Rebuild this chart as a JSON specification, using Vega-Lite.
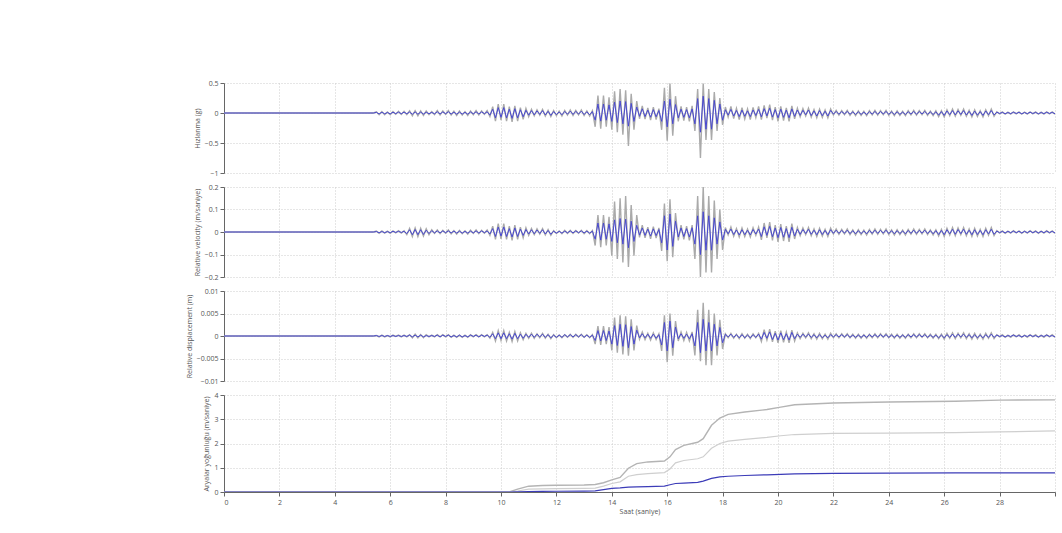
{
"$schema":"https://vega.github.io/schema/vega-lite/v6.json",
"padding":{"left":185,"top":79,"right":4,"bottom":2},
"background":"#ffffff",
"spacing":7,
"config":{"font":"Open Sans","view":{"stroke":null},"axis":{"labelFontSize":7,"titleFontSize":7,"titleFontWeight":"normal","labelColor":"#555555","titleColor":"#555555","gridColor":"#cccccc","gridDash":[1,2],"domainColor":"#666666","tickColor":"#666666","tickSize":4,"labelPadding":2,"titlePadding":4}},
"datasets":{
"osc":[
{"t":0,"a":0,"g":0,"v":0,"w":0,"d":0,"e":0},
{"t":5.4,"a":0,"g":0,"v":0,"w":0,"d":0,"e":0},
{"t":5.5,"a":0.011,"g":0.021,"v":0.002,"w":0.004,"d":0.0001,"e":0.0001},
{"t":5.6,"a":-0.015,"g":-0.03,"v":-0.003,"w":-0.006,"d":-0.0001,"e":-0.0002},
{"t":5.7,"a":0.012,"g":0.024,"v":0.002,"w":0.005,"d":0.0001,"e":0.0002},
{"t":5.8,"a":-0.014,"g":-0.027,"v":-0.003,"w":-0.005,"d":-0.0001,"e":-0.0002},
{"t":5.9,"a":0.009,"g":0.018,"v":0.002,"w":0.004,"d":0.0001,"e":0.0001},
{"t":6.0,"a":-0.015,"g":-0.03,"v":-0.003,"w":-0.006,"d":-0.0001,"e":-0.0002},
{"t":6.1,"a":0.013,"g":0.026,"v":0.003,"w":0.005,"d":0.0001,"e":0.0002},
{"t":6.2,"a":-0.011,"g":-0.021,"v":-0.002,"w":-0.004,"d":-0.0001,"e":-0.0001},
{"t":6.3,"a":0.015,"g":0.03,"v":0.003,"w":0.006,"d":0.0001,"e":0.0002},
{"t":6.4,"a":-0.012,"g":-0.024,"v":-0.002,"w":-0.005,"d":-0.0001,"e":-0.0002},
{"t":6.5,"a":0.014,"g":0.027,"v":0.003,"w":0.005,"d":0.0001,"e":0.0002},
{"t":6.6,"a":-0.012,"g":-0.027,"v":-0.007,"w":-0.012,"d":-0.0001,"e":-0.0002},
{"t":6.7,"a":0.016,"g":0.036,"v":0.01,"w":0.016,"d":0.0002,"e":0.0003},
{"t":6.8,"a":-0.02,"g":-0.045,"v":-0.012,"w":-0.02,"d":-0.0002,"e":-0.0004},
{"t":6.9,"a":0.018,"g":0.04,"v":0.011,"w":0.018,"d":0.0002,"e":0.0004},
{"t":7.0,"a":-0.02,"g":-0.045,"v":-0.012,"w":-0.02,"d":-0.0002,"e":-0.0004},
{"t":7.1,"a":0.016,"g":0.036,"v":0.01,"w":0.016,"d":0.0002,"e":0.0003},
{"t":7.2,"a":-0.018,"g":-0.04,"v":-0.011,"w":-0.018,"d":-0.0002,"e":-0.0004},
{"t":7.3,"a":0.014,"g":0.032,"v":0.008,"w":0.014,"d":0.0001,"e":0.0003},
{"t":7.4,"a":-0.012,"g":-0.027,"v":-0.007,"w":-0.012,"d":-0.0001,"e":-0.0002},
{"t":7.5,"a":0.01,"g":0.023,"v":0.006,"w":0.01,"d":0.0001,"e":0.0002},
{"t":7.6,"a":-0.014,"g":-0.028,"v":-0.004,"w":-0.006,"d":-0.0001,"e":-0.0002},
{"t":7.7,"a":0.02,"g":0.04,"v":0.005,"w":0.009,"d":0.0002,"e":0.0003},
{"t":7.8,"a":-0.016,"g":-0.032,"v":-0.004,"w":-0.007,"d":-0.0002,"e":-0.0002},
{"t":7.9,"a":0.018,"g":0.036,"v":0.005,"w":0.008,"d":0.0002,"e":0.0003},
{"t":8.0,"a":-0.012,"g":-0.024,"v":-0.003,"w":-0.005,"d":-0.0001,"e":-0.0002},
{"t":8.1,"a":0.02,"g":0.04,"v":0.005,"w":0.009,"d":0.0002,"e":0.0003},
{"t":8.2,"a":-0.017,"g":-0.034,"v":-0.004,"w":-0.008,"d":-0.0002,"e":-0.0003},
{"t":8.3,"a":0.014,"g":0.028,"v":0.004,"w":0.006,"d":0.0001,"e":0.0002},
{"t":8.4,"a":-0.02,"g":-0.04,"v":-0.005,"w":-0.009,"d":-0.0002,"e":-0.0003},
{"t":8.5,"a":0.016,"g":0.032,"v":0.004,"w":0.007,"d":0.0002,"e":0.0002},
{"t":8.6,"a":-0.018,"g":-0.036,"v":-0.005,"w":-0.008,"d":-0.0002,"e":-0.0003},
{"t":8.7,"a":0.012,"g":0.024,"v":0.003,"w":0.005,"d":0.0001,"e":0.0002},
{"t":8.8,"a":-0.02,"g":-0.04,"v":-0.005,"w":-0.009,"d":-0.0002,"e":-0.0003},
{"t":8.9,"a":0.017,"g":0.034,"v":0.004,"w":0.008,"d":0.0002,"e":0.0003},
{"t":9.0,"a":-0.014,"g":-0.028,"v":-0.004,"w":-0.006,"d":-0.0001,"e":-0.0002},
{"t":9.1,"a":0.02,"g":0.04,"v":0.005,"w":0.009,"d":0.0002,"e":0.0003},
{"t":9.2,"a":-0.016,"g":-0.032,"v":-0.004,"w":-0.007,"d":-0.0002,"e":-0.0002},
{"t":9.3,"a":0.018,"g":0.036,"v":0.005,"w":0.008,"d":0.0002,"e":0.0003},
{"t":9.4,"a":-0.012,"g":-0.024,"v":-0.003,"w":-0.005,"d":-0.0001,"e":-0.0002},
{"t":9.5,"a":0.02,"g":0.04,"v":0.005,"w":0.009,"d":0.0002,"e":0.0003},
{"t":9.6,"a":-0.036,"g":-0.06,"v":-0.009,"w":-0.015,"d":-0.0003,"e":-0.0005},
{"t":9.7,"a":0.063,"g":0.105,"v":0.015,"w":0.026,"d":0.0005,"e":0.0008},
{"t":9.8,"a":-0.081,"g":-0.135,"v":-0.02,"w":-0.033,"d":-0.0006,"e":-0.0011},
{"t":9.9,"a":0.09,"g":0.15,"v":0.022,"w":0.037,"d":0.0007,"e":0.0012},
{"t":10.0,"a":-0.072,"g":-0.12,"v":-0.018,"w":-0.03,"d":-0.0006,"e":-0.001},
{"t":10.1,"a":0.09,"g":0.15,"v":0.022,"w":0.037,"d":0.0007,"e":0.0012},
{"t":10.2,"a":-0.081,"g":-0.135,"v":-0.02,"w":-0.033,"d":-0.0006,"e":-0.0011},
{"t":10.3,"a":0.063,"g":0.105,"v":0.015,"w":0.026,"d":0.0005,"e":0.0008},
{"t":10.4,"a":-0.09,"g":-0.15,"v":-0.022,"w":-0.037,"d":-0.0007,"e":-0.0012},
{"t":10.5,"a":0.072,"g":0.12,"v":0.018,"w":0.03,"d":0.0006,"e":0.001},
{"t":10.6,"a":-0.081,"g":-0.135,"v":-0.02,"w":-0.033,"d":-0.0006,"e":-0.0011},
{"t":10.7,"a":0.054,"g":0.09,"v":0.013,"w":0.022,"d":0.0004,"e":0.0007},
{"t":10.8,"a":-0.063,"g":-0.105,"v":-0.015,"w":-0.026,"d":-0.0005,"e":-0.0008},
{"t":10.9,"a":0.045,"g":0.075,"v":0.011,"w":0.019,"d":0.0004,"e":0.0006},
{"t":11.0,"a":-0.036,"g":-0.06,"v":-0.009,"w":-0.015,"d":-0.0003,"e":-0.0005},
{"t":11.1,"a":0.04,"g":0.06,"v":0.01,"w":0.015,"d":0.0004,"e":0.0006},
{"t":11.2,"a":-0.032,"g":-0.048,"v":-0.008,"w":-0.012,"d":-0.0003,"e":-0.0005},
{"t":11.3,"a":0.036,"g":0.054,"v":0.009,"w":0.014,"d":0.0004,"e":0.0005},
{"t":11.4,"a":-0.024,"g":-0.036,"v":-0.006,"w":-0.009,"d":-0.0002,"e":-0.0004},
{"t":11.5,"a":0.04,"g":0.06,"v":0.01,"w":0.015,"d":0.0004,"e":0.0006},
{"t":11.6,"a":-0.034,"g":-0.051,"v":-0.009,"w":-0.013,"d":-0.0003,"e":-0.0005},
{"t":11.7,"a":0.028,"g":0.042,"v":0.007,"w":0.011,"d":0.0003,"e":0.0004},
{"t":11.8,"a":-0.04,"g":-0.06,"v":-0.01,"w":-0.015,"d":-0.0004,"e":-0.0006},
{"t":11.9,"a":0.024,"g":0.04,"v":0.004,"w":0.006,"d":0.0002,"e":0.0003},
{"t":12.0,"a":-0.027,"g":-0.045,"v":-0.005,"w":-0.007,"d":-0.0003,"e":-0.0004},
{"t":12.1,"a":0.018,"g":0.03,"v":0.003,"w":0.005,"d":0.0002,"e":0.0002},
{"t":12.2,"a":-0.03,"g":-0.05,"v":-0.005,"w":-0.008,"d":-0.0003,"e":-0.0004},
{"t":12.3,"a":0.026,"g":0.043,"v":0.004,"w":0.007,"d":0.0003,"e":0.0003},
{"t":12.4,"a":-0.021,"g":-0.035,"v":-0.004,"w":-0.006,"d":-0.0002,"e":-0.0003},
{"t":12.5,"a":0.03,"g":0.05,"v":0.005,"w":0.008,"d":0.0003,"e":0.0004},
{"t":12.6,"a":-0.024,"g":-0.04,"v":-0.004,"w":-0.006,"d":-0.0002,"e":-0.0003},
{"t":12.7,"a":0.027,"g":0.045,"v":0.005,"w":0.007,"d":0.0003,"e":0.0004},
{"t":12.8,"a":-0.018,"g":-0.03,"v":-0.003,"w":-0.005,"d":-0.0002,"e":-0.0002},
{"t":12.9,"a":0.03,"g":0.05,"v":0.005,"w":0.008,"d":0.0003,"e":0.0004},
{"t":13.0,"a":-0.026,"g":-0.043,"v":-0.004,"w":-0.007,"d":-0.0003,"e":-0.0003},
{"t":13.1,"a":0.021,"g":0.035,"v":0.004,"w":0.006,"d":0.0002,"e":0.0003},
{"t":13.2,"a":-0.03,"g":-0.05,"v":-0.005,"w":-0.008,"d":-0.0003,"e":-0.0004},
{"t":13.3,"a":0.024,"g":0.04,"v":0.004,"w":0.006,"d":0.0002,"e":0.0003},
{"t":13.4,"a":-0.12,"g":-0.23,"v":-0.032,"w":-0.06,"d":-0.001,"e":-0.0018},
{"t":13.5,"a":0.15,"g":0.29,"v":0.04,"w":0.075,"d":0.0012,"e":0.0022},
{"t":13.6,"a":-0.135,"g":-0.26,"v":-0.036,"w":-0.068,"d":-0.0011,"e":-0.002},
{"t":13.7,"a":0.15,"g":0.29,"v":0.04,"w":0.075,"d":0.0012,"e":0.0022},
{"t":13.8,"a":-0.12,"g":-0.23,"v":-0.032,"w":-0.06,"d":-0.001,"e":-0.0018},
{"t":13.9,"a":0.135,"g":0.26,"v":0.036,"w":0.068,"d":0.0011,"e":0.002},
{"t":14.0,"a":-0.14,"g":-0.28,"v":-0.042,"w":-0.105,"d":-0.0018,"e":-0.0032},
{"t":14.1,"a":0.18,"g":0.36,"v":0.054,"w":0.135,"d":0.0023,"e":0.0041},
{"t":14.2,"a":-0.16,"g":-0.32,"v":-0.048,"w":-0.12,"d":-0.0021,"e":-0.0037},
{"t":14.3,"a":0.2,"g":0.4,"v":0.06,"w":0.15,"d":0.0026,"e":0.0046},
{"t":14.4,"a":-0.18,"g":-0.36,"v":-0.054,"w":-0.135,"d":-0.0023,"e":-0.0041},
{"t":14.5,"a":0.19,"g":0.38,"v":0.057,"w":0.16,"d":0.0025,"e":0.0044},
{"t":14.6,"a":-0.22,"g":-0.55,"v":-0.07,"w":-0.155,"d":-0.0026,"e":-0.0044},
{"t":14.7,"a":0.16,"g":0.32,"v":0.048,"w":0.12,"d":0.0021,"e":0.0037},
{"t":14.8,"a":-0.14,"g":-0.28,"v":-0.042,"w":-0.105,"d":-0.0018,"e":-0.0032},
{"t":14.9,"a":0.1,"g":0.2,"v":0.03,"w":0.075,"d":0.0013,"e":0.0023},
{"t":15.0,"a":-0.056,"g":-0.096,"v":-0.014,"w":-0.024,"d":-0.0004,"e":-0.0007},
{"t":15.1,"a":0.07,"g":0.12,"v":0.018,"w":0.03,"d":0.0005,"e":0.0009},
{"t":15.2,"a":-0.06,"g":-0.102,"v":-0.015,"w":-0.026,"d":-0.0004,"e":-0.0008},
{"t":15.3,"a":0.049,"g":0.084,"v":0.013,"w":0.021,"d":0.0004,"e":0.0006},
{"t":15.4,"a":-0.07,"g":-0.12,"v":-0.018,"w":-0.03,"d":-0.0005,"e":-0.0009},
{"t":15.5,"a":0.056,"g":0.096,"v":0.014,"w":0.024,"d":0.0004,"e":0.0007},
{"t":15.6,"a":-0.063,"g":-0.108,"v":-0.016,"w":-0.027,"d":-0.0005,"e":-0.0008},
{"t":15.7,"a":0.042,"g":0.072,"v":0.011,"w":0.018,"d":0.0003,"e":0.0005},
{"t":15.8,"a":-0.14,"g":-0.28,"v":-0.048,"w":-0.084,"d":-0.002,"e":-0.0033},
{"t":15.9,"a":0.2,"g":0.42,"v":0.072,"w":0.126,"d":0.003,"e":0.0046},
{"t":16.0,"a":-0.23,"g":-0.46,"v":-0.08,"w":-0.13,"d":-0.0033,"e":-0.0058},
{"t":16.1,"a":0.23,"g":0.49,"v":0.08,"w":0.145,"d":0.0033,"e":0.005},
{"t":16.2,"a":-0.18,"g":-0.38,"v":-0.064,"w":-0.112,"d":-0.0026,"e":-0.0044},
{"t":16.3,"a":0.14,"g":0.28,"v":0.048,"w":0.084,"d":0.002,"e":0.0033},
{"t":16.4,"a":-0.08,"g":-0.14,"v":-0.022,"w":-0.037,"d":-0.0006,"e":-0.0011},
{"t":16.5,"a":0.064,"g":0.112,"v":0.018,"w":0.03,"d":0.0005,"e":0.0009},
{"t":16.6,"a":-0.072,"g":-0.126,"v":-0.02,"w":-0.033,"d":-0.0005,"e":-0.001},
{"t":16.7,"a":0.056,"g":0.098,"v":0.015,"w":0.026,"d":0.0004,"e":0.0008},
{"t":16.8,"a":-0.08,"g":-0.14,"v":-0.022,"w":-0.037,"d":-0.0006,"e":-0.0011},
{"t":16.9,"a":0.068,"g":0.119,"v":0.019,"w":0.031,"d":0.0005,"e":0.0009},
{"t":17.0,"a":-0.18,"g":-0.3,"v":-0.054,"w":-0.12,"d":-0.0022,"e":-0.0043},
{"t":17.1,"a":0.24,"g":0.4,"v":0.072,"w":0.16,"d":0.003,"e":0.0058},
{"t":17.2,"a":-0.32,"g":-0.75,"v":-0.1,"w":-0.2,"d":-0.0037,"e":-0.0056},
{"t":17.3,"a":0.28,"g":0.49,"v":0.09,"w":0.2,"d":0.0037,"e":0.0074},
{"t":17.4,"a":-0.27,"g":-0.45,"v":-0.081,"w":-0.18,"d":-0.0033,"e":-0.0065},
{"t":17.5,"a":0.24,"g":0.4,"v":0.072,"w":0.16,"d":0.003,"e":0.0058},
{"t":17.6,"a":-0.27,"g":-0.45,"v":-0.081,"w":-0.18,"d":-0.0033,"e":-0.0065},
{"t":17.7,"a":0.21,"g":0.35,"v":0.063,"w":0.14,"d":0.0026,"e":0.005},
{"t":17.8,"a":-0.18,"g":-0.3,"v":-0.054,"w":-0.12,"d":-0.0022,"e":-0.0043},
{"t":17.9,"a":0.15,"g":0.25,"v":0.045,"w":0.1,"d":0.0019,"e":0.0036},
{"t":18.0,"a":-0.12,"g":-0.2,"v":-0.036,"w":-0.08,"d":-0.0015,"e":-0.0029},
{"t":18.1,"a":0.054,"g":0.099,"v":0.012,"w":0.02,"d":0.0004,"e":0.0005},
{"t":18.2,"a":-0.036,"g":-0.066,"v":-0.008,"w":-0.013,"d":-0.0002,"e":-0.0004},
{"t":18.3,"a":0.06,"g":0.11,"v":0.013,"w":0.022,"d":0.0004,"e":0.0006},
{"t":18.4,"a":-0.051,"g":-0.094,"v":-0.011,"w":-0.019,"d":-0.0003,"e":-0.0005},
{"t":18.5,"a":0.042,"g":0.077,"v":0.009,"w":0.015,"d":0.0003,"e":0.0004},
{"t":18.6,"a":-0.06,"g":-0.11,"v":-0.013,"w":-0.022,"d":-0.0004,"e":-0.0006},
{"t":18.7,"a":0.048,"g":0.088,"v":0.01,"w":0.018,"d":0.0003,"e":0.0005},
{"t":18.8,"a":-0.054,"g":-0.099,"v":-0.012,"w":-0.02,"d":-0.0004,"e":-0.0005},
{"t":18.9,"a":0.036,"g":0.066,"v":0.008,"w":0.013,"d":0.0002,"e":0.0004},
{"t":19.0,"a":-0.06,"g":-0.11,"v":-0.013,"w":-0.022,"d":-0.0004,"e":-0.0006},
{"t":19.1,"a":0.051,"g":0.094,"v":0.011,"w":0.019,"d":0.0003,"e":0.0005},
{"t":19.2,"a":-0.042,"g":-0.077,"v":-0.009,"w":-0.015,"d":-0.0003,"e":-0.0004},
{"t":19.3,"a":0.06,"g":0.11,"v":0.013,"w":0.022,"d":0.0004,"e":0.0006},
{"t":19.4,"a":-0.064,"g":-0.112,"v":-0.02,"w":-0.035,"d":-0.0007,"e":-0.0012},
{"t":19.5,"a":0.072,"g":0.126,"v":0.023,"w":0.04,"d":0.0008,"e":0.0014},
{"t":19.6,"a":-0.048,"g":-0.084,"v":-0.015,"w":-0.026,"d":-0.0005,"e":-0.0009},
{"t":19.7,"a":0.08,"g":0.14,"v":0.025,"w":0.044,"d":0.0009,"e":0.0015},
{"t":19.8,"a":-0.068,"g":-0.119,"v":-0.021,"w":-0.037,"d":-0.0008,"e":-0.0013},
{"t":19.9,"a":0.056,"g":0.098,"v":0.018,"w":0.031,"d":0.0006,"e":0.0011},
{"t":20.0,"a":-0.08,"g":-0.14,"v":-0.025,"w":-0.044,"d":-0.0009,"e":-0.0015},
{"t":20.1,"a":0.064,"g":0.112,"v":0.02,"w":0.035,"d":0.0007,"e":0.0012},
{"t":20.2,"a":-0.072,"g":-0.126,"v":-0.023,"w":-0.04,"d":-0.0008,"e":-0.0014},
{"t":20.3,"a":0.048,"g":0.084,"v":0.015,"w":0.026,"d":0.0005,"e":0.0009},
{"t":20.4,"a":-0.08,"g":-0.14,"v":-0.025,"w":-0.044,"d":-0.0009,"e":-0.0015},
{"t":20.5,"a":0.068,"g":0.119,"v":0.021,"w":0.037,"d":0.0008,"e":0.0013},
{"t":20.6,"a":-0.056,"g":-0.098,"v":-0.018,"w":-0.031,"d":-0.0006,"e":-0.0011},
{"t":20.7,"a":0.05,"g":0.08,"v":0.012,"w":0.02,"d":0.0004,"e":0.0007},
{"t":20.8,"a":-0.04,"g":-0.064,"v":-0.01,"w":-0.016,"d":-0.0003,"e":-0.0006},
{"t":20.9,"a":0.045,"g":0.072,"v":0.011,"w":0.018,"d":0.0004,"e":0.0006},
{"t":21.0,"a":-0.03,"g":-0.048,"v":-0.007,"w":-0.012,"d":-0.0002,"e":-0.0004},
{"t":21.1,"a":0.05,"g":0.08,"v":0.012,"w":0.02,"d":0.0004,"e":0.0007},
{"t":21.2,"a":-0.043,"g":-0.068,"v":-0.01,"w":-0.017,"d":-0.0003,"e":-0.0006},
{"t":21.3,"a":0.035,"g":0.056,"v":0.008,"w":0.014,"d":0.0003,"e":0.0005},
{"t":21.4,"a":-0.05,"g":-0.08,"v":-0.012,"w":-0.02,"d":-0.0004,"e":-0.0007},
{"t":21.5,"a":0.04,"g":0.064,"v":0.01,"w":0.016,"d":0.0003,"e":0.0006},
{"t":21.6,"a":-0.045,"g":-0.072,"v":-0.011,"w":-0.018,"d":-0.0004,"e":-0.0006},
{"t":21.7,"a":0.03,"g":0.048,"v":0.007,"w":0.012,"d":0.0002,"e":0.0004},
{"t":21.8,"a":-0.05,"g":-0.08,"v":-0.012,"w":-0.02,"d":-0.0004,"e":-0.0007},
{"t":21.9,"a":0.043,"g":0.068,"v":0.01,"w":0.017,"d":0.0003,"e":0.0006},
{"t":22.0,"a":-0.018,"g":-0.032,"v":-0.006,"w":-0.009,"d":-0.0002,"e":-0.0004},
{"t":22.1,"a":0.025,"g":0.045,"v":0.008,"w":0.013,"d":0.0003,"e":0.0005},
{"t":22.2,"a":-0.02,"g":-0.036,"v":-0.006,"w":-0.01,"d":-0.0002,"e":-0.0004},
{"t":22.3,"a":0.023,"g":0.041,"v":0.007,"w":0.012,"d":0.0003,"e":0.0005},
{"t":22.4,"a":-0.015,"g":-0.027,"v":-0.005,"w":-0.008,"d":-0.0002,"e":-0.0003},
{"t":22.5,"a":0.025,"g":0.045,"v":0.008,"w":0.013,"d":0.0003,"e":0.0005},
{"t":22.6,"a":-0.021,"g":-0.038,"v":-0.007,"w":-0.011,"d":-0.0003,"e":-0.0004},
{"t":22.7,"a":0.018,"g":0.032,"v":0.006,"w":0.009,"d":0.0002,"e":0.0004},
{"t":22.8,"a":-0.025,"g":-0.045,"v":-0.008,"w":-0.013,"d":-0.0003,"e":-0.0005},
{"t":22.9,"a":0.02,"g":0.036,"v":0.006,"w":0.01,"d":0.0002,"e":0.0004},
{"t":23.0,"a":-0.023,"g":-0.041,"v":-0.007,"w":-0.012,"d":-0.0003,"e":-0.0005},
{"t":23.1,"a":0.015,"g":0.027,"v":0.005,"w":0.008,"d":0.0002,"e":0.0003},
{"t":23.2,"a":-0.025,"g":-0.045,"v":-0.008,"w":-0.013,"d":-0.0003,"e":-0.0005},
{"t":23.3,"a":0.021,"g":0.038,"v":0.007,"w":0.011,"d":0.0003,"e":0.0004},
{"t":23.4,"a":-0.018,"g":-0.032,"v":-0.006,"w":-0.009,"d":-0.0002,"e":-0.0004},
{"t":23.5,"a":0.025,"g":0.045,"v":0.008,"w":0.013,"d":0.0003,"e":0.0005},
{"t":23.6,"a":-0.02,"g":-0.036,"v":-0.006,"w":-0.01,"d":-0.0002,"e":-0.0004},
{"t":23.7,"a":0.023,"g":0.041,"v":0.007,"w":0.012,"d":0.0003,"e":0.0005},
{"t":23.8,"a":-0.015,"g":-0.027,"v":-0.005,"w":-0.008,"d":-0.0002,"e":-0.0003},
{"t":23.9,"a":0.025,"g":0.045,"v":0.008,"w":0.013,"d":0.0003,"e":0.0005},
{"t":24.0,"a":-0.021,"g":-0.038,"v":-0.007,"w":-0.011,"d":-0.0003,"e":-0.0004},
{"t":24.1,"a":0.018,"g":0.032,"v":0.006,"w":0.009,"d":0.0002,"e":0.0004},
{"t":24.2,"a":-0.025,"g":-0.045,"v":-0.008,"w":-0.013,"d":-0.0003,"e":-0.0005},
{"t":24.3,"a":0.02,"g":0.036,"v":0.006,"w":0.01,"d":0.0002,"e":0.0004},
{"t":24.4,"a":-0.023,"g":-0.041,"v":-0.007,"w":-0.012,"d":-0.0003,"e":-0.0005},
{"t":24.5,"a":0.015,"g":0.027,"v":0.005,"w":0.008,"d":0.0002,"e":0.0003},
{"t":24.6,"a":-0.025,"g":-0.045,"v":-0.008,"w":-0.013,"d":-0.0003,"e":-0.0005},
{"t":24.7,"a":0.021,"g":0.038,"v":0.007,"w":0.011,"d":0.0003,"e":0.0004},
{"t":24.8,"a":-0.018,"g":-0.032,"v":-0.006,"w":-0.009,"d":-0.0002,"e":-0.0004},
{"t":24.9,"a":0.025,"g":0.045,"v":0.008,"w":0.013,"d":0.0003,"e":0.0005},
{"t":25.0,"a":-0.02,"g":-0.036,"v":-0.006,"w":-0.01,"d":-0.0002,"e":-0.0004},
{"t":25.1,"a":0.023,"g":0.041,"v":0.007,"w":0.012,"d":0.0003,"e":0.0005},
{"t":25.2,"a":-0.015,"g":-0.027,"v":-0.005,"w":-0.008,"d":-0.0002,"e":-0.0003},
{"t":25.3,"a":0.025,"g":0.045,"v":0.008,"w":0.013,"d":0.0003,"e":0.0005},
{"t":25.4,"a":-0.021,"g":-0.038,"v":-0.007,"w":-0.011,"d":-0.0003,"e":-0.0004},
{"t":25.5,"a":0.018,"g":0.032,"v":0.006,"w":0.009,"d":0.0002,"e":0.0004},
{"t":25.6,"a":-0.025,"g":-0.045,"v":-0.008,"w":-0.013,"d":-0.0003,"e":-0.0005},
{"t":25.7,"a":0.02,"g":0.036,"v":0.006,"w":0.01,"d":0.0002,"e":0.0004},
{"t":25.8,"a":-0.036,"g":-0.059,"v":-0.011,"w":-0.018,"d":-0.0004,"e":-0.0006},
{"t":25.9,"a":0.024,"g":0.039,"v":0.007,"w":0.012,"d":0.0002,"e":0.0004},
{"t":26.0,"a":-0.04,"g":-0.065,"v":-0.012,"w":-0.02,"d":-0.0004,"e":-0.0007},
{"t":26.1,"a":0.034,"g":0.055,"v":0.01,"w":0.017,"d":0.0003,"e":0.0006},
{"t":26.2,"a":-0.028,"g":-0.046,"v":-0.008,"w":-0.014,"d":-0.0003,"e":-0.0005},
{"t":26.3,"a":0.04,"g":0.065,"v":0.012,"w":0.02,"d":0.0004,"e":0.0007},
{"t":26.4,"a":-0.032,"g":-0.052,"v":-0.01,"w":-0.016,"d":-0.0003,"e":-0.0006},
{"t":26.5,"a":0.036,"g":0.059,"v":0.011,"w":0.018,"d":0.0004,"e":0.0006},
{"t":26.6,"a":-0.024,"g":-0.039,"v":-0.007,"w":-0.012,"d":-0.0002,"e":-0.0004},
{"t":26.7,"a":0.04,"g":0.065,"v":0.012,"w":0.02,"d":0.0004,"e":0.0007},
{"t":26.8,"a":-0.034,"g":-0.055,"v":-0.01,"w":-0.017,"d":-0.0003,"e":-0.0006},
{"t":26.9,"a":0.028,"g":0.046,"v":0.008,"w":0.014,"d":0.0003,"e":0.0005},
{"t":27.0,"a":-0.04,"g":-0.065,"v":-0.012,"w":-0.02,"d":-0.0004,"e":-0.0007},
{"t":27.1,"a":0.032,"g":0.052,"v":0.01,"w":0.016,"d":0.0003,"e":0.0006},
{"t":27.2,"a":-0.036,"g":-0.059,"v":-0.011,"w":-0.018,"d":-0.0004,"e":-0.0006},
{"t":27.3,"a":0.024,"g":0.039,"v":0.007,"w":0.012,"d":0.0002,"e":0.0004},
{"t":27.4,"a":-0.04,"g":-0.065,"v":-0.012,"w":-0.02,"d":-0.0004,"e":-0.0007},
{"t":27.5,"a":0.034,"g":0.055,"v":0.01,"w":0.017,"d":0.0003,"e":0.0006},
{"t":27.6,"a":-0.028,"g":-0.046,"v":-0.008,"w":-0.014,"d":-0.0003,"e":-0.0005},
{"t":27.7,"a":0.04,"g":0.065,"v":0.012,"w":0.02,"d":0.0004,"e":0.0007},
{"t":27.8,"a":-0.032,"g":-0.052,"v":-0.01,"w":-0.016,"d":-0.0003,"e":-0.0006},
{"t":27.9,"a":0.012,"g":0.02,"v":0.004,"w":0.006,"d":0.0002,"e":0.0003},
{"t":28.0,"a":-0.008,"g":-0.014,"v":-0.003,"w":-0.004,"d":-0.0001,"e":-0.0002},
{"t":28.1,"a":0.01,"g":0.017,"v":0.003,"w":0.005,"d":0.0001,"e":0.0003},
{"t":28.2,"a":-0.012,"g":-0.02,"v":-0.004,"w":-0.006,"d":-0.0002,"e":-0.0003},
{"t":28.3,"a":0.008,"g":0.014,"v":0.003,"w":0.004,"d":0.0001,"e":0.0002},
{"t":28.4,"a":-0.01,"g":-0.017,"v":-0.003,"w":-0.005,"d":-0.0001,"e":-0.0003},
{"t":28.5,"a":0.012,"g":0.02,"v":0.004,"w":0.006,"d":0.0002,"e":0.0003},
{"t":28.6,"a":-0.008,"g":-0.014,"v":-0.003,"w":-0.004,"d":-0.0001,"e":-0.0002},
{"t":28.7,"a":0.01,"g":0.017,"v":0.003,"w":0.005,"d":0.0001,"e":0.0003},
{"t":28.8,"a":-0.012,"g":-0.02,"v":-0.004,"w":-0.006,"d":-0.0002,"e":-0.0003},
{"t":28.9,"a":0.008,"g":0.014,"v":0.003,"w":0.004,"d":0.0001,"e":0.0002},
{"t":29.0,"a":-0.01,"g":-0.017,"v":-0.003,"w":-0.005,"d":-0.0001,"e":-0.0003},
{"t":29.1,"a":0.012,"g":0.02,"v":0.004,"w":0.006,"d":0.0002,"e":0.0003},
{"t":29.2,"a":-0.008,"g":-0.014,"v":-0.003,"w":-0.004,"d":-0.0001,"e":-0.0002},
{"t":29.3,"a":0.01,"g":0.017,"v":0.003,"w":0.005,"d":0.0001,"e":0.0003},
{"t":29.4,"a":-0.012,"g":-0.02,"v":-0.004,"w":-0.006,"d":-0.0002,"e":-0.0003},
{"t":29.5,"a":0.008,"g":0.014,"v":0.003,"w":0.004,"d":0.0001,"e":0.0002},
{"t":29.6,"a":-0.01,"g":-0.017,"v":-0.003,"w":-0.005,"d":-0.0001,"e":-0.0003},
{"t":29.7,"a":0.012,"g":0.02,"v":0.004,"w":0.006,"d":0.0002,"e":0.0003},
{"t":29.8,"a":-0.008,"g":-0.014,"v":-0.003,"w":-0.004,"d":-0.0001,"e":-0.0002},
{"t":29.9,"a":0.01,"g":0.017,"v":0.003,"w":0.005,"d":0.0001,"e":0.0003},
{"t":30.0,"a":-0.012,"g":-0.02,"v":-0.004,"w":-0.006,"d":-0.0002,"e":-0.0003}
],
"arias":[
{"t":0,"p":0,"q":0,"b":0},
{"t":10.3,"p":0,"q":0,"b":0},
{"t":10.6,"p":0.12,"q":0.04,"b":0.01},
{"t":11.0,"p":0.24,"q":0.12,"b":0.02},
{"t":11.5,"p":0.27,"q":0.13,"b":0.025},
{"t":12.0,"p":0.28,"q":0.14,"b":0.03},
{"t":13.0,"p":0.29,"q":0.15,"b":0.04},
{"t":13.4,"p":0.31,"q":0.16,"b":0.05},
{"t":13.7,"p":0.38,"q":0.24,"b":0.1},
{"t":14.0,"p":0.5,"q":0.35,"b":0.15},
{"t":14.3,"p":0.6,"q":0.42,"b":0.17},
{"t":14.6,"p":0.98,"q":0.65,"b":0.2},
{"t":14.9,"p":1.17,"q":0.72,"b":0.21},
{"t":15.3,"p":1.24,"q":0.76,"b":0.22},
{"t":15.9,"p":1.28,"q":0.8,"b":0.24},
{"t":16.1,"p":1.45,"q":0.95,"b":0.3},
{"t":16.3,"p":1.75,"q":1.2,"b":0.35},
{"t":16.6,"p":1.92,"q":1.3,"b":0.37},
{"t":17.1,"p":2.05,"q":1.37,"b":0.4},
{"t":17.3,"p":2.2,"q":1.45,"b":0.45},
{"t":17.6,"p":2.75,"q":1.8,"b":0.56},
{"t":17.9,"p":3.05,"q":2.0,"b":0.62},
{"t":18.2,"p":3.2,"q":2.1,"b":0.65},
{"t":18.8,"p":3.3,"q":2.17,"b":0.68},
{"t":19.6,"p":3.4,"q":2.25,"b":0.71},
{"t":20.1,"p":3.5,"q":2.32,"b":0.73},
{"t":20.6,"p":3.6,"q":2.37,"b":0.75},
{"t":22.0,"p":3.67,"q":2.42,"b":0.77},
{"t":24.0,"p":3.71,"q":2.43,"b":0.78},
{"t":26.4,"p":3.74,"q":2.45,"b":0.785},
{"t":28.0,"p":3.79,"q":2.48,"b":0.79},
{"t":30.0,"p":3.8,"q":2.52,"b":0.79}
]
},
"vconcat":[
{"width":831,"height":90,"data":{"name":"osc"},
 "layer":[
  {"mark":{"type":"line","color":"#aaaaaa","strokeWidth":1.4,"clip":true},
   "encoding":{"x":{"field":"t","type":"quantitative","scale":{"domain":[0,30],"nice":false},"axis":{"values":[0,2,4,6,8,10,12,14,16,18,20,22,24,26,28,30],"labels":false,"ticks":false,"domain":false,"title":null}},
   "y":{"field":"g","type":"quantitative","scale":{"domain":[-1,0.5],"nice":false},"axis":{"values":[-1,-0.5,0,0.5],"format":"~g","title":"Hızlanma (g)"}}}},
  {"mark":{"type":"line","color":"#4848d0","strokeWidth":1,"clip":true},
   "encoding":{"x":{"field":"t","type":"quantitative"},"y":{"field":"a","type":"quantitative","axis":{"values":[-1,-0.5,0,0.5],"format":"~g","title":"Hızlanma (g)"}}}}
 ]},
{"width":831,"height":90,"data":{"name":"osc"},
 "layer":[
  {"mark":{"type":"line","color":"#aaaaaa","strokeWidth":1.4,"clip":true},
   "encoding":{"x":{"field":"t","type":"quantitative","scale":{"domain":[0,30],"nice":false},"axis":{"values":[0,2,4,6,8,10,12,14,16,18,20,22,24,26,28,30],"labels":false,"ticks":false,"domain":false,"title":null}},
   "y":{"field":"w","type":"quantitative","scale":{"domain":[-0.2,0.2],"nice":false},"axis":{"values":[-0.2,-0.1,0,0.1,0.2],"format":"~g","title":"Relative velocity (m/saniye)"}}}},
  {"mark":{"type":"line","color":"#4848d0","strokeWidth":1,"clip":true},
   "encoding":{"x":{"field":"t","type":"quantitative"},"y":{"field":"v","type":"quantitative","axis":{"values":[-0.2,-0.1,0,0.1,0.2],"format":"~g","title":"Relative velocity (m/saniye)"}}}}
 ]},
{"width":831,"height":90,"data":{"name":"osc"},
 "layer":[
  {"mark":{"type":"line","color":"#aaaaaa","strokeWidth":1.4,"clip":true},
   "encoding":{"x":{"field":"t","type":"quantitative","scale":{"domain":[0,30],"nice":false},"axis":{"values":[0,2,4,6,8,10,12,14,16,18,20,22,24,26,28,30],"labels":false,"ticks":false,"domain":false,"title":null}},
   "y":{"field":"e","type":"quantitative","scale":{"domain":[-0.01,0.01],"nice":false},"axis":{"values":[-0.01,-0.005,0,0.005,0.01],"format":"~g","title":"Relative displacement (m)"}}}},
  {"mark":{"type":"line","color":"#4848d0","strokeWidth":1,"clip":true},
   "encoding":{"x":{"field":"t","type":"quantitative"},"y":{"field":"d","type":"quantitative","axis":{"values":[-0.01,-0.005,0,0.005,0.01],"format":"~g","title":"Relative displacement (m)"}}}}
 ]},
{"width":831,"height":97,"data":{"name":"arias"},
 "layer":[
  {"mark":{"type":"line","color":"#b4b4b4","strokeWidth":1.4,"clip":true},
   "encoding":{"x":{"field":"t","type":"quantitative","scale":{"domain":[0,30],"nice":false},"axis":{"values":[0,2,4,6,8,10,12,14,16,18,20,22,24,26,28,30],"labelExpr":"datum.value == 30 ? '' : datum.label","title":"Saat (saniye)","titleFontSize":7,"titlePadding":2}},
   "y":{"field":"p","type":"quantitative","scale":{"domain":[0,4],"nice":false},"axis":{"values":[0,1,2,3,4],"format":"~g","title":"Aryalar yoğunluğu (m/saniye)"}}}},
  {"mark":{"type":"line","color":"#cfcfcf","strokeWidth":1.2,"clip":true},
   "encoding":{"x":{"field":"t","type":"quantitative"},"y":{"field":"q","type":"quantitative","axis":{"values":[0,1,2,3,4],"format":"~g","title":"Aryalar yoğunluğu (m/saniye)"}}}},
  {"mark":{"type":"line","color":"#3c3cb8","strokeWidth":1.2,"clip":true},
   "encoding":{"x":{"field":"t","type":"quantitative"},"y":{"field":"b","type":"quantitative","axis":{"values":[0,1,2,3,4],"format":"~g","title":"Aryalar yoğunluğu (m/saniye)"}}}}
 ]}
]
}
